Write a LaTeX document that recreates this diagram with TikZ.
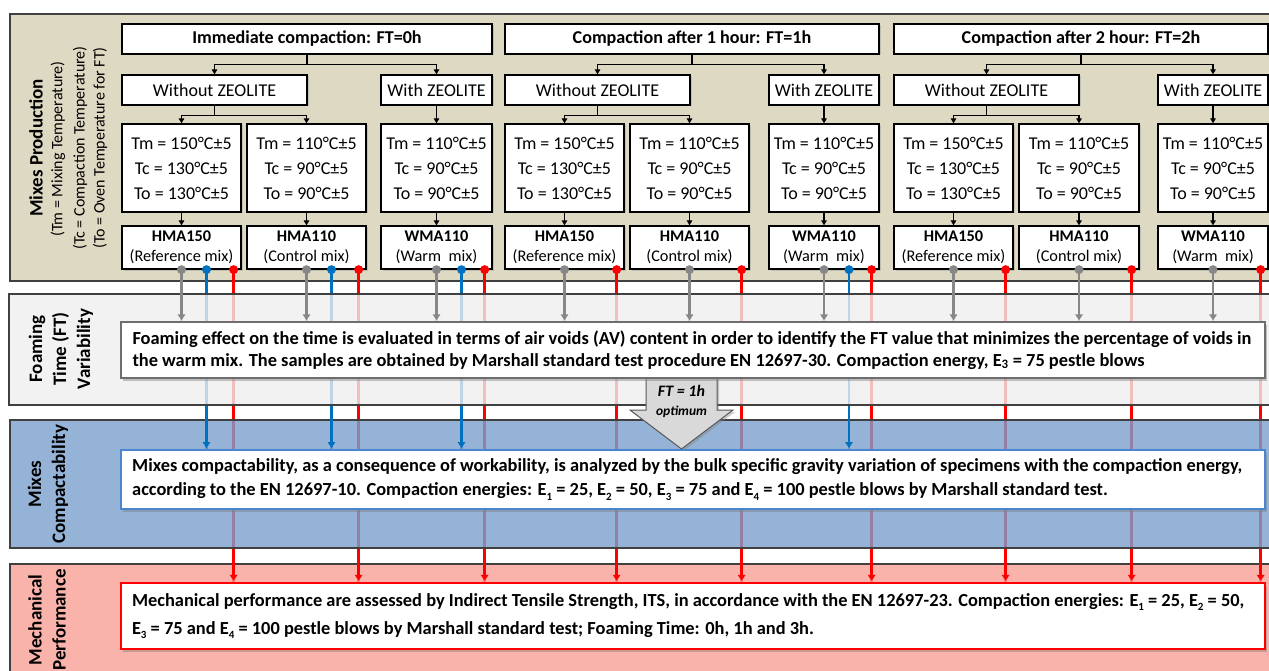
\documentclass[tikz,border=0pt]{standalone}
\usepackage{fontspec}
\setmainfont{Carlito}
\usetikzlibrary{shadows,arrows.meta,calc}
\definecolor{bTan}{HTML}{DDD9C3}
\definecolor{bGray}{HTML}{EFEFEF}
\definecolor{bBlue}{HTML}{7AA0CD}
\definecolor{bRed}{HTML}{F8A096}
\definecolor{cGray}{HTML}{878787}
\definecolor{cBlue}{HTML}{0070C0}
\definecolor{cRed}{HTML}{FF0000}
\definecolor{bordBlue}{HTML}{4A86D0}
\definecolor{ftEdge}{HTML}{6E6E6E}
\definecolor{bandEdge}{HTML}{404040}
\definecolor{callFill}{HTML}{D9D9D9}
\definecolor{callEdge}{HTML}{595959}

\pgfdeclarelayer{bgband}
\pgfdeclarelayer{lines}
\pgfdeclarelayer{veil}
\pgfdeclarelayer{term}
\pgfsetlayers{bgband,lines,veil,term,main}

\newcommand{\fsTitle}{\fontsize{18.1}{20}\selectfont\bfseries}
\newcommand{\fsReg}{\fontsize{18}{21}\selectfont}
\newcommand{\fsTemp}{\fontsize{18}{25}\selectfont}
\newcommand{\fsMix}{\fontsize{16.3}{20}\selectfont}
\newcommand{\fsLab}{\fontsize{19}{24}\selectfont\bfseries}
\newcommand{\fsSub}{\fontsize{16}{20}\selectfont}
\newcommand{\fsLong}[1]{\fontsize{18.4}{#1}\selectfont\bfseries}
\newcommand{\lowsub}[1]{\raisebox{-4.5pt}{\fontsize{11}{11}\selectfont #1}}

\newcommand{\mkbox}[7][]{%
  \pgfmathsetmacro{\rcx}{(#3+#5)/2}%
  \pgfmathsetmacro{\rcy}{(#4+#6)/2}%
  \pgfmathsetmacro{\rw}{#5-#3}%
  \pgfmathsetmacro{\rh}{#6-#4}%
  \node[#1, minimum width=\rw pt, minimum height=\rh pt] (#2) at (\rcx,\rcy) {#7};}

% #1 id, #2 L, #3 R, #4 title, #5 without R, #6 with L, #7 temp1 R, #8 temp2 L, #9 temp2 R
\newcommand{\mkgroup}[9]{%
  \mkbox[ubox,font=\fsTitle]{T#1}{#2}{24}{#3}{54}{#4}
  \mkbox[ubox,font=\fsReg]{W#1}{#2}{75}{#5}{105}{Without ZEOLITE}
  \mkbox[ubox,font=\fsReg]{Z#1}{#6}{75}{#3}{105}{With ZEOLITE}
  \mkbox[ubox,font=\fsTemp]{A#1}{#2}{124}{#7}{212}{Tm = 150°C±5\\Tc = 130°C±5\\To = 130°C±5}
  \mkbox[ubox,font=\fsTemp]{B#1}{#8}{124}{#9}{212}{Tm = 110°C±5\\Tc = 90°C±5\\To = 90°C±5}
  \mkbox[ubox,font=\fsTemp]{C#1}{#6}{124}{#3}{212}{Tm = 110°C±5\\Tc = 90°C±5\\To = 90°C±5}
  \mkbox[ubox,font=\fsMix]{M#1a}{#2}{226}{#7}{269}{\textbf{HMA150}\\(Reference mix)}
  \mkbox[ubox,font=\fsMix]{M#1b}{#8}{226}{#9}{269}{\textbf{HMA110}\\(Control mix)}
  \mkbox[ubox,font=\fsMix]{M#1c}{#6}{226}{#3}{269}{\textbf{WMA110}\\(Warm\ \ mix)}
  \draw[tree] (T#1.south) -- ++(0,10) coordinate (TJ#1);
  \draw[treearr] (TJ#1) -| (W#1.north);
  \draw[treearr] (TJ#1) -| (Z#1.north);
  \draw[tree] (W#1.south) -- ++(0,10) coordinate (WJ#1);
  \draw[treearr] (WJ#1) -| (A#1.north);
  \draw[treearr] (WJ#1) -| (B#1.north);
  \draw[treearr] (Z#1.south) -- (C#1.north);
  \draw[treearr] (A#1.south) -- (M#1a.north);
  \draw[treearr] (B#1.south) -- (M#1b.north);
  \draw[treearr] (C#1.south) -- (M#1c.north);
}

\newcommand{\gpin}[1]{%
  \coordinate (#1g) at (#1.south);
  \begin{pgfonlayer}{lines}\draw[cl,cGray] (#1g) -- (#1g |- FTbox.north);\end{pgfonlayer}
  \begin{pgfonlayer}{term}\draw[cl,cGray,carr] (#1g |- FTband.north) -- (#1g |- FTbox.north);\end{pgfonlayer}
  \fill[cGray] (#1g) circle (4.5);}
\newcommand{\bpin}[1]{%
  \coordinate (#1bl) at ([xshift=25pt]#1.south);
  \begin{pgfonlayer}{lines}\draw[cl,cBlue] (#1bl) -- (#1bl |- CPbox.north);\end{pgfonlayer}
  \begin{pgfonlayer}{term}\draw[cl,cBlue,carr] (#1bl |- CPband.north) -- (#1bl |- CPbox.north);\end{pgfonlayer}
  \fill[cBlue] (#1bl) circle (4.5);}
\newcommand{\rpin}[1]{%
  \coordinate (#1rd) at ([xshift=-8pt]#1.south east);
  \begin{pgfonlayer}{lines}\draw[cl,cRed] (#1rd) -- (#1rd |- MEbox.north);\end{pgfonlayer}
  \begin{pgfonlayer}{term}\draw[cl,cRed,carr] (#1rd |- MEband.north) -- (#1rd |- MEbox.north);\end{pgfonlayer}
  \fill[cRed] (#1rd) circle (4.5);}

\begin{document}
\begin{tikzpicture}[x=1pt,y=-1pt,
  ubox/.style={draw=black, line width=1.3pt, fill=white, inner sep=0pt, align=center,
    drop shadow={shadow xshift=1.5pt, shadow yshift=-1.5pt, opacity=0.3}},
  band/.style={draw=bandEdge, line width=1.3pt, inner sep=0pt},
  tbox/.style={fill=white, inner sep=0pt,
    drop shadow={shadow xshift=2pt, shadow yshift=-3pt, opacity=0.45}},
  tree/.style={draw=black, line width=1.5pt},
  treearr/.style={tree, -{Triangle[length=5pt,width=5.5pt]}},
  cl/.style={line width=2.6pt},
  carr/.style={-{Triangle[length=6pt,width=7.5pt]}, shorten >=1pt},
  lab/.style={rotate=90, align=center, inner sep=0pt}]
\useasboundingbox (0,0) rectangle (1269,671);

% bands
\begin{pgfonlayer}{bgband}
  \mkbox[band, fill=bTan]{MPband}{10}{14}{1290}{281}{}
\end{pgfonlayer}
\begin{pgfonlayer}{veil}
  \mkbox[band, fill=bGray, fill opacity=0.8]{FTband}{9}{294}{1290}{405}{}
  \mkbox[band, fill=bBlue, fill opacity=0.8]{CPband}{10}{420}{1290}{548}{}
  \mkbox[band, fill=bRed, fill opacity=0.8]{MEband}{10}{564}{1290}{700}{}
\end{pgfonlayer}

% callout
\draw[fill=callFill, draw=callEdge, line width=1pt,
  drop shadow={shadow xshift=2pt, shadow yshift=-2pt, opacity=0.4}]
  (646,372) -- (717,372) -- (717,410) -- (733,410) -- (681.5,449) -- (630,410) -- (646,410) -- cycle;
\node[font=\fontsize{16}{16}\selectfont\bfseries\itshape] (ftopt) at (681.5,391) {FT = 1h};
\node[font=\fontsize{13.5}{14}\selectfont\bfseries\itshape] (optlbl) at (681.5,412) {optimum};

% text boxes
\mkbox[tbox, draw=ftEdge, line width=1.4pt]{FTbox}{121}{322}{1265}{378}{}
\node[anchor=west, align=left, font={\fsLong{22}}, inner sep=0pt] (FTtext) at ([xshift=12pt]FTbox.west)
  {Foaming effect on the time is evaluated in terms of air voids (AV) content in order to identify the FT value that minimizes the percentage of voids in\\
   the warm mix. The samples are obtained by Marshall standard test procedure EN 12697-30. Compaction energy, E\textsubscript{3} = 75 pestle blows};
\mkbox[tbox, draw=bordBlue, line width=2pt]{CPbox}{121}{450}{1265}{509}{}
\node[anchor=west, align=left, font={\fsLong{24}}, inner sep=0pt] (CPtext) at ([xshift=12pt]CPbox.west)
  {Mixes compactability, as a consequence of workability, is analyzed by the bulk specific gravity variation of specimens with the compaction energy,\\
   according to the EN 12697-10. Compaction energies: E\lowsub{1} = 25, E\lowsub{2} = 50, E\lowsub{3} = 75 and E\lowsub{4} = 100 pestle blows by Marshall standard test.};
\mkbox[tbox, draw=cRed, line width=2.4pt]{MEbox}{121}{583}{1265}{649}{}
\node[anchor=west, align=left, font={\fsLong{28}}, inner sep=0pt] (MEtext) at ([xshift=12pt]MEbox.west)
  {Mechanical performance are assessed by Indirect Tensile Strength, ITS, in accordance with the EN 12697-23. Compaction energies: E\lowsub{1} = 25, E\lowsub{2} = 50,\\
   E\lowsub{3} = 75 and E\lowsub{4} = 100 pestle blows by Marshall standard test; Foaming Time: 0h, 1h and 3h.};

% band labels
\node[lab, font=\fsLab] (lMP) at (36,148) {Mixes Production};
\node[lab, font=\fsSub] (lTm) at (58,149) {(Tm = Mixing Temperature)};
\node[lab, font=\fsSub] (lTc) at (80,148) {(Tc = Compaction Temperature)};
\node[lab, font=\fsSub] (lTo) at (100,148) {(To = Oven Temperature for FT)};
\node[lab, font=\fsLab] (lFT) at (61,349) {Foaming\\Time (FT)\\Variability};
\node[lab, font=\fsLab] (lCP) at (48,484) {Mixes\\Compactability};
\node[lab, font=\fsLab] (lME) at (47,620) {Mechanical\\Performance};

% upper groups
\mkgroup{1}{122}{492}{Immediate compaction: FT=0h}{307}{381}{241}{247}{366}
\mkgroup{2}{505}{879}{Compaction after 1 hour: FT=1h}{690}{769}{624}{630}{749}
\mkgroup{3}{894}{1268}{Compaction after 2 hour: FT=2h}{1079}{1158}{1013}{1019}{1139}

% pins and connectors
\gpin{M1a}\bpin{M1a}\rpin{M1a}
\gpin{M1b}\bpin{M1b}\rpin{M1b}
\gpin{M1c}\bpin{M1c}\rpin{M1c}
\gpin{M2a}\rpin{M2a}
\gpin{M2b}\rpin{M2b}
\gpin{M2c}\bpin{M2c}\rpin{M2c}
\gpin{M3a}\rpin{M3a}
\gpin{M3b}\rpin{M3b}
\gpin{M3c}\rpin{M3c}
\end{tikzpicture}
\end{document}
